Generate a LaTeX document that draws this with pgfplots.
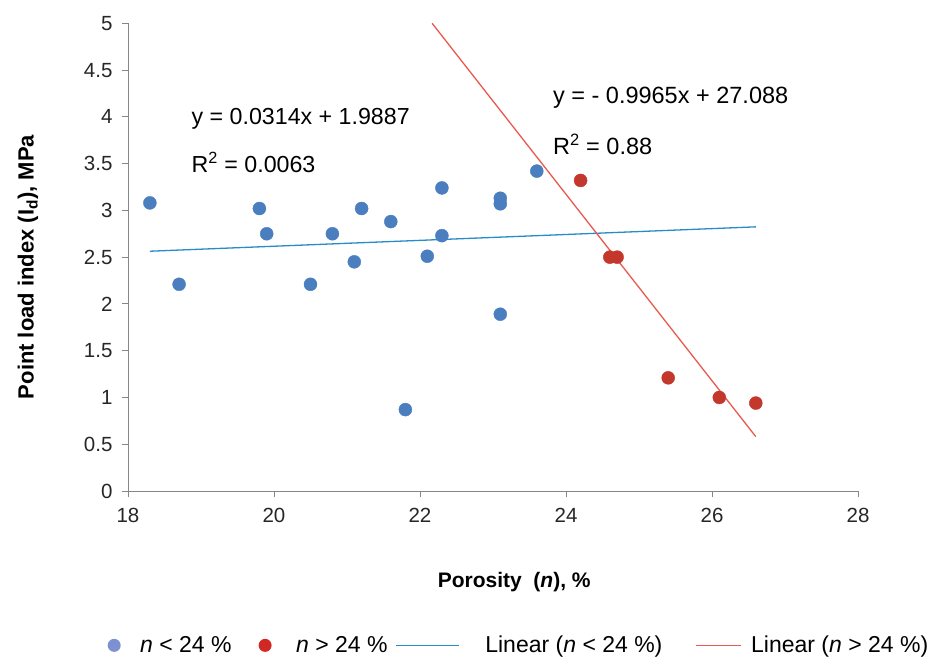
\documentclass[border=0pt]{standalone}
\usepackage{fontspec}
\setmainfont{Liberation Sans}
\usepackage{pgfplots}
\pgfplotsset{compat=1.18}

\definecolor{bluept}{RGB}{74,126,190}
\definecolor{redpt}{RGB}{195,55,45}
\definecolor{blueln}{RGB}{40,140,200}
\definecolor{redln}{RGB}{232,90,80}
\definecolor{axgray}{RGB}{134,134,134}
\definecolor{legblue}{RGB}{125,145,210}
\definecolor{legred}{RGB}{210,40,35}

\pgfplotsset{
  legA/.style={legend image code/.code={\fill[legblue,draw=none] (0bp,0bp) circle (6.5bp); \path[draw=none,fill=none] (-6.5bp,0bp) rectangle (25bp,0.1bp);}},
  legB/.style={legend image code/.code={\fill[legred,draw=none] (0bp,0bp) circle (6.5bp); \path[draw=none,fill=none] (-6.5bp,0bp) rectangle (30bp,0.1bp);}},
  legC/.style={legend image code/.code={\draw[blueln, line width=1.6bp] (0bp,0bp) -- (63bp,0bp); \path[draw=none,fill=none] (0bp,0bp) rectangle (88bp,0.1bp);}},
  legD/.style={legend image code/.code={\draw[redln, line width=1.6bp] (0bp,0bp) -- (45bp,0bp); \path[draw=none,fill=none] (0bp,0bp) rectangle (54bp,0.1bp);}},
}

\begin{document}
\begin{tikzpicture}
\useasboundingbox (-128bp,-167bp) rectangle (805bp,491bp);
\begin{axis}[
  at={(0,0)}, anchor=south west,
  scale only axis, width=730bp, height=467.7bp,
  xmin=18, xmax=28, ymin=0, ymax=5,
  xtick={18,20,...,28}, ytick={0,0.5,...,5},
  axis lines=left,
  axis line style={-, axgray, line width=0.9bp},
  tick style={axgray, line width=0.9bp},
  tick align=outside, major tick length=6bp,
  /pgf/number format/assume math mode=true,
  ticklabel style={font=\fontsize{20.5bp}{24bp}\selectfont, text=black!85},
  yticklabel style={xshift=-6bp},
  xticklabel style={yshift=-8bp},
  xlabel={\textbf{Porosity\ \ (\textit{n}), \%}},
  xlabel style={at={(axis description cs:0.529,-0.195)}, anchor=center, font=\fontsize{21bp}{25bp}\selectfont},
  ylabel={\textbf{Point load index (I\textsubscript{d}), MPa}},
  ylabel style={at={(axis description cs:-0.137,0.479)}, anchor=center, rotate=0, font=\fontsize{22bp}{26bp}\selectfont},
  legend columns=4,
  legend style={at={(axis description cs:0.0,-0.330)}, anchor=west, xshift=-23.5bp, draw=none, fill=none,
    font=\fontsize{23bp}{27bp}\selectfont,
    nodes={inner xsep=1bp, inner ysep=0bp},
    /tikz/column 2/.style={column sep=26bp},
    /tikz/column 4/.style={column sep=7bp},
    /tikz/column 6/.style={column sep=32bp}},
  legend cell align=left,
  clip=false,
]
\addplot[only marks, mark=*, mark size=6.5bp, color=bluept, mark options={fill=bluept, draw=none}, legA] table {
x y
18.3 3.08
18.7 2.21
19.8 3.02
19.9 2.75
20.5 2.21
20.8 2.75
21.2 3.02
21.1 2.45
21.6 2.88
21.8 0.87
22.1 2.51
22.3 3.24
22.3 2.73
23.1 3.13
23.1 3.07
23.1 1.89
23.6 3.42
};
\addlegendentry{\textit{n} < 24 \%}
\addplot[only marks, mark=*, mark size=6.5bp, color=redpt, mark options={fill=redpt, draw=none}, legB] table {
x y
24.2 3.32
24.6 2.50
24.7 2.50
25.4 1.21
26.1 1.00
26.6 0.94
};
\addlegendentry{\textit{n} > 24 \%}
\addplot[blueln, line width=1.3bp, legC] coordinates {(18.3,2.5633) (26.6,2.8239)};
\addlegendentry{Linear (\textit{n} < 24 \%)}
\addplot[redln, line width=1.3bp, legD] coordinates {(22.166,5.0) (26.6,0.5811)};
\addlegendentry{Linear (\textit{n} > 24 \%)}

\node[anchor=base west, inner sep=0pt, font=\fontsize{23.2bp}{27bp}\selectfont] at (axis cs:18.87,3.92) {y = 0.0314x + 1.9887};
\node[anchor=base west, inner sep=0pt, font=\fontsize{23.2bp}{27bp}\selectfont] at (axis cs:18.87,3.41) {R\textsuperscript{2} = 0.0063};
\node[anchor=base west, inner sep=0pt, font=\fontsize{23.5bp}{27bp}\selectfont] at (axis cs:23.82,4.147) {y = - 0.9965x + 27.088};
\node[anchor=base west, inner sep=0pt, font=\fontsize{23.5bp}{27bp}\selectfont] at (axis cs:23.82,3.594) {R\textsuperscript{2} = 0.88};
\end{axis}
\end{tikzpicture}
\end{document}
